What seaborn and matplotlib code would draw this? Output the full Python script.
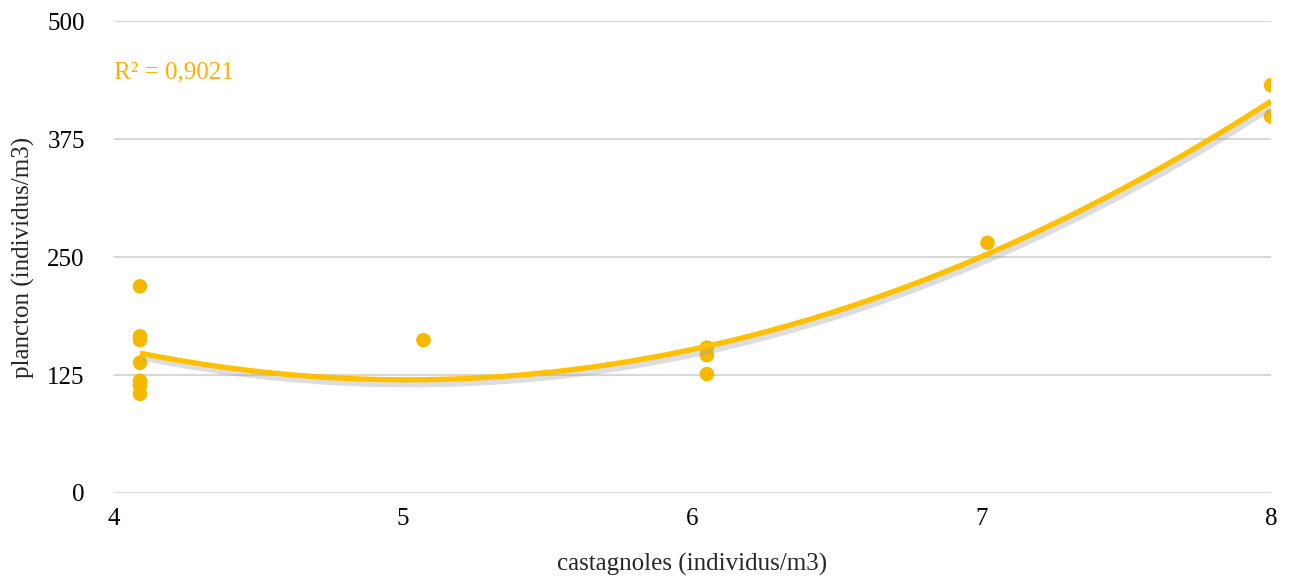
import numpy as np
import pandas as pd
import matplotlib
matplotlib.use("Agg")
import matplotlib.pyplot as plt
import matplotlib.patheffects as pe
import seaborn as sns

# Observations: fish density vs plankton density
castagnoles = [4.09, 4.09, 4.09, 4.09, 4.09, 4.09, 4.09,
               5.07,
               6.05, 6.05, 6.05,
               7.02,
               8.0, 8.0]
plancton = [219, 166, 162, 138, 119, 114, 105,
            162,
            154, 146, 126,
            265,
            432, 399]

y_ticks = [0, 125, 250, 375, 500]
x_ticks = [4, 5, 6, 7, 8]
r2_label = "R² = 0,9021"

df = pd.DataFrame({"castagnoles": castagnoles, "plancton": plancton})

sns.set_theme(style="white")
plt.rcParams["font.family"] = ["Liberation Serif", "DejaVu Serif"]

gold = "#FFC000"
dot = "#F7B900"

fig = plt.figure(figsize=(12.89, 5.76), dpi=100)
ax = fig.add_axes([0.0884, 0.1441, 0.8976, 0.8194])

sns.scatterplot(data=df, x="castagnoles", y="plancton", ax=ax,
                color=dot, s=110, edgecolor="none", zorder=3)

# Second-order polynomial trend line with a soft drop shadow
sns.regplot(data=df, x="castagnoles", y="plancton", ax=ax, order=2,
            ci=None, scatter=False, truncate=True,
            line_kws=dict(color=gold, lw=3.8, zorder=4, solid_capstyle="butt",
                          path_effects=[pe.SimpleLineShadow(offset=(2, -3), shadow_color="#a0a0a0",
                                                            alpha=0.35, linewidth=5),
                                        pe.Normal()]))

ax.set_xlim(4, 8)
ax.set_ylim(0, 500)
ax.set_xticks(x_ticks)
ax.set_yticks(y_ticks)
ax.grid(axis="y", color="#D0D0D0", lw=1.2)
ax.grid(axis="x", visible=False)
for s in ax.spines.values():
    s.set_visible(False)
ax.tick_params(axis="both", length=0, labelsize=18, colors="#000000")
ax.tick_params(axis="x", pad=11)
ax.tick_params(axis="y", pad=21)

ax.set_xlabel("castagnoles (individus/m3)", fontsize=18, labelpad=16)
ax.set_ylabel("plancton (individus/m3)", fontsize=18, labelpad=9)

ax.text(4.0, 445, r2_label, color="#FFB000", fontsize=18, va="center", ha="left")

fig.savefig("out.png", dpi=100)
